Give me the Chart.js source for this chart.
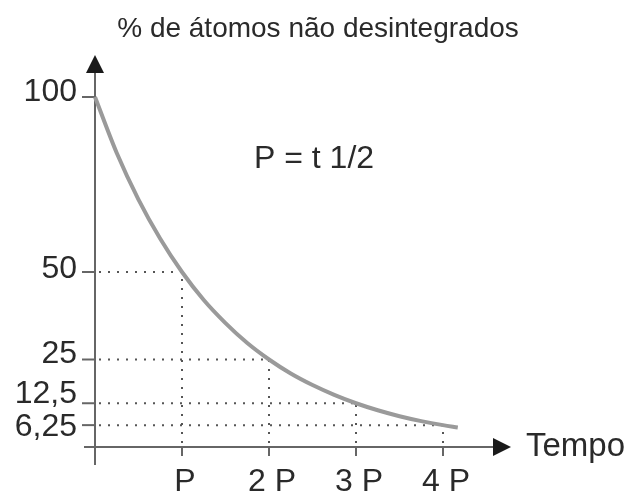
<!DOCTYPE html>
<html>
<head>
<meta charset="utf-8">
<script src="https://cdn.jsdelivr.net/npm/chart.js@4/dist/chart.umd.min.js"></script>
<style>
html,body{margin:0;padding:0;background:#fff;}
#wrap{width:627px;height:495px;position:relative;}
</style>
</head>
<body>
<div id="wrap"><canvas id="c" width="627" height="495"></canvas></div>
<script>
// Data (time in half-lives P, % remaining)
const timeP = [0, 0.25, 0.5, 0.75, 1, 1.25, 1.5, 1.75, 2, 2.25, 2.5, 2.75, 3, 3.25, 3.5, 3.75, 4, 4.17];
const percent = [100, 84, 70.7, 59.5, 50, 42, 35.4, 29.7, 25, 21, 17.7, 14.9, 12.5, 10.5, 8.8, 7.4, 6.25, 5.6];
const yTickValues = [100, 50, 25, 12.5, 6.25];
const yTickLabels = ["100", "50", "25", "12,5", "6,25"];
const xTickValues = [1, 2, 3, 4];
const xTickLabels = ["P", "2 P", "3 P", "4 P"];
const yTitle = "% de átomos não desintegrados";
const xTitle = "Tempo";
const note = "P = t 1/2";

const points = timeP.map((t, i) => ({x: t, y: percent[i]}));

const axesPlugin = {
  id: 'axesPlugin',
  beforeDatasetsDraw(chart) {
    const ctx = chart.ctx;
    const xs = chart.scales.x, ys = chart.scales.y;
    const x0 = xs.getPixelForValue(0), y0 = ys.getPixelForValue(0);
    ctx.save();
    // dotted guide lines
    ctx.strokeStyle = '#555';
    ctx.lineWidth = 2;
    ctx.setLineDash([2, 7]);
    for (let i = 0; i < xTickValues.length; i++) {
      const px = xs.getPixelForValue(xTickValues[i]);
      const py = ys.getPixelForValue(yTickValues[i + 1]);
      ctx.beginPath(); ctx.moveTo(x0 + 4, py); ctx.lineTo(px, py); ctx.stroke();
      ctx.beginPath(); ctx.moveTo(px, y0 - 4); ctx.lineTo(px, py); ctx.stroke();
    }
    ctx.setLineDash([]);
    // axes
    ctx.strokeStyle = '#666';
    ctx.lineWidth = 2;
    ctx.beginPath();
    ctx.moveTo(x0, y0 + 18); ctx.lineTo(x0, 70);
    ctx.moveTo(x0 - 11, y0); ctx.lineTo(495, y0);
    ctx.stroke();
    // ticks
    for (const v of yTickValues) {
      const py = ys.getPixelForValue(v);
      ctx.beginPath(); ctx.moveTo(x0 - 13, py); ctx.lineTo(x0, py); ctx.stroke();
    }
    for (const v of xTickValues) {
      const px = xs.getPixelForValue(v);
      ctx.beginPath(); ctx.moveTo(px, y0); ctx.lineTo(px, y0 + 9); ctx.stroke();
    }
    // arrowheads
    ctx.fillStyle = '#1a1a1a';
    ctx.beginPath(); ctx.moveTo(x0, 55); ctx.lineTo(x0 - 9, 73); ctx.lineTo(x0 + 9, 73); ctx.closePath(); ctx.fill();
    ctx.beginPath(); ctx.moveTo(511, y0); ctx.lineTo(493, y0 - 9); ctx.lineTo(493, y0 + 9); ctx.closePath(); ctx.fill();
    // labels
    ctx.fillStyle = '#2a2a2a';
    ctx.font = '32px "Liberation Sans", Arial, sans-serif';
    ctx.textAlign = 'right';
    ctx.textBaseline = 'middle';
    const yOff = [-5, -3, -5, -9, 2];
    yTickValues.forEach((v, i) => {
      ctx.fillText(yTickLabels[i], 77, ys.getPixelForValue(v) + yOff[i]);
    });
    ctx.textAlign = 'center';
    ctx.textBaseline = 'alphabetic';
    xTickValues.forEach((v, i) => {
      ctx.fillText(xTickLabels[i], xs.getPixelForValue(v) + 3, 491);
    });
    ctx.textAlign = 'left';
    ctx.font = '33px "Liberation Sans", Arial, sans-serif';
    ctx.fillText(xTitle, 526, 456);
    ctx.font = '32px "Liberation Sans", Arial, sans-serif';
    ctx.fillText(note, 254, 168);
    ctx.textAlign = 'center';
    ctx.font = '28px "Liberation Sans", Arial, sans-serif';
    ctx.fillText(yTitle, 318, 37);
    ctx.restore();
  }
};

new Chart(document.getElementById('c'), {
  type: 'line',
  data: {
    datasets: [{
      data: points,
      borderColor: '#9a9a9a',
      borderWidth: 4,
      pointRadius: 0,
      tension: 0.4,
      cubicInterpolationMode: 'monotone',
      fill: false,
      clip: false
    }]
  },
  options: {
    responsive: false,
    animation: false,
    events: [],
    layout: {padding: {left: 95, right: 97, top: 97, bottom: 48}},
    plugins: {legend: {display: false}, tooltip: {enabled: false}},
    scales: {
      x: {type: 'linear', min: 0, max: 5, display: false},
      y: {type: 'linear', min: 0, max: 100, display: false}
    }
  },
  plugins: [axesPlugin]
});
</script>
</body>
</html>
